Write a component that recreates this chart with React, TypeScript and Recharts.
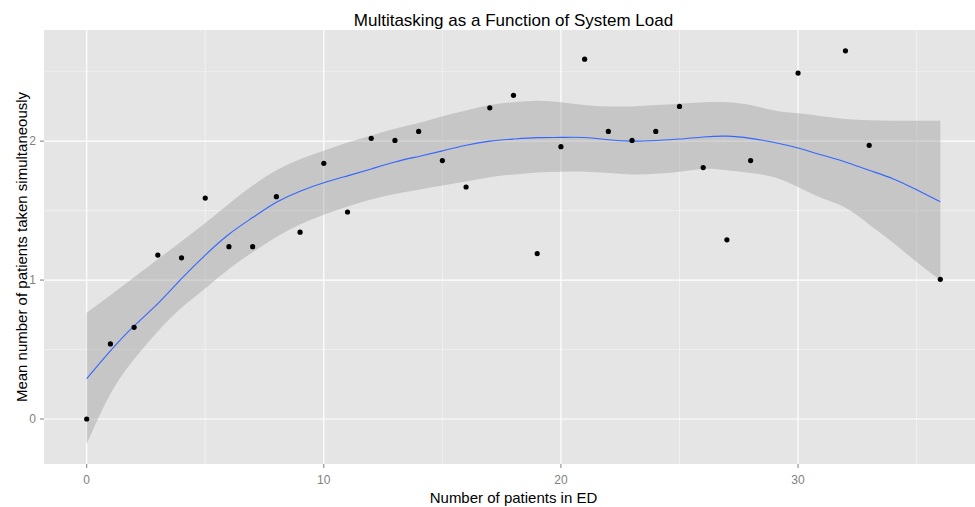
import {
  ComposedChart,
  Area,
  Line,
  Scatter,
  XAxis,
  YAxis,
  CartesianGrid,
} from "recharts";

// observed points: patients in ED vs mean number taken simultaneously
const patientsX = [0, 1, 2, 3, 4, 5, 6, 7, 8, 9, 10, 11, 12, 13, 14, 15, 16, 17, 18, 19, 20, 21, 22, 23, 24, 25, 26, 27, 28, 30, 32, 33, 36];
const meanTaken = [0, 0.54, 0.66, 1.18, 1.16, 1.59, 1.24, 1.24, 1.6, 1.345, 1.84, 1.49, 2.02, 2.005, 2.07, 1.86, 1.67, 2.24, 2.33, 1.19, 1.96, 2.59, 2.07, 2.005, 2.07, 2.25, 1.81, 1.29, 1.86, 2.49, 2.65, 1.97, 1.005];

// loess fit and confidence band, read at x = 0..36
const fitX = [0, 1, 2, 3, 4, 5, 6, 7, 8, 9, 10, 11, 12, 13, 14, 15, 16, 17, 18, 19, 20, 21, 22, 23, 24, 25, 26, 27, 28, 29, 30, 31, 32, 33, 34, 35, 36];
const fitY = [0.29, 0.49, 0.67, 0.83, 1.01, 1.18, 1.33, 1.45, 1.56, 1.64, 1.7, 1.75, 1.8, 1.85, 1.89, 1.93, 1.97, 2.0, 2.015, 2.025, 2.027, 2.026, 2.01, 2.0, 2.005, 2.015, 2.03, 2.036, 2.02, 1.99, 1.95, 1.9, 1.85, 1.79, 1.73, 1.65, 1.563];
const fitLow = [-0.18, 0.18, 0.43, 0.63, 0.8, 0.94, 1.08, 1.2, 1.31, 1.4, 1.47, 1.53, 1.58, 1.62, 1.65, 1.68, 1.71, 1.74, 1.76, 1.775, 1.78, 1.78, 1.77, 1.76, 1.765, 1.78, 1.8, 1.79, 1.77, 1.74, 1.67, 1.59, 1.52, 1.4, 1.27, 1.13, 1.0];
const fitHigh = [0.765, 0.89, 1.02, 1.15, 1.28, 1.41, 1.55, 1.68, 1.79, 1.87, 1.93, 1.99, 2.04, 2.09, 2.13, 2.18, 2.22, 2.26, 2.28, 2.29, 2.28, 2.26, 2.25, 2.25, 2.26, 2.27, 2.28, 2.28, 2.26, 2.22, 2.2, 2.18, 2.16, 2.15, 2.147, 2.146, 2.146];

const xTicks = [0, 10, 20, 30];
const xMinor = [5, 15, 25, 35];
const yTicks = [0, 1, 2];
const yMinor = [0.5, 1.5, 2.5];

const points = patientsX.map((x, i) => ({ x, y: meanTaken[i] }));
const band = fitX.map((x, i) => ({ x, fit: fitY[i], low: fitLow[i], high: fitHigh[i] }));

const FONT = "'Liberation Sans', Arial, sans-serif";
const tickStyle = { fill: "#7F7F7F", fontSize: 12, fontFamily: FONT };

export default function App() {
  return (
    <div style={{ position: "absolute", left: 0, top: 0, width: 975, height: 507, overflow: "hidden", background: "#fff" }}>
      <div
        style={{
          position: "absolute",
          left: 44,
          width: 939,
          top: 12,
          textAlign: "center",
          fontFamily: FONT,
          fontSize: 17,
          lineHeight: "17px",
          color: "#000",
        }}
      >
        Multitasking as a Function of System Load
      </div>
      <ComposedChart width={990} height={507} data={band} margin={{ top: 30, right: 7, bottom: 0, left: 0 }}>
        <CartesianGrid
          fill="#E5E5E5"
          fillOpacity={1}
          stroke="#F2F2F2"
          strokeWidth={0.8}
          horizontalValues={yMinor}
          verticalValues={xMinor}
        />
        <CartesianGrid stroke="#FFFFFF" strokeWidth={1.2} horizontalValues={yTicks} verticalValues={xTicks} />
        <XAxis
          dataKey="x"
          type="number"
          domain={[-1.8, 37.8]}
          ticks={xTicks}
          allowDataOverflow
          height={43}
          axisLine={false}
          tickLine={{ stroke: "#7F7F7F" }}
          tickSize={4}
          tickMargin={7}
          tick={tickStyle}
          label={{
            value: "Number of patients in ED",
            position: "insideBottom",
            offset: 4,
            fill: "#000",
            fontSize: 15,
            fontFamily: FONT,
          }}
        />
        <YAxis
          type="number"
          domain={[-0.324, 2.8]}
          ticks={yTicks}
          allowDataOverflow
          width={44}
          axisLine={false}
          tickLine={{ stroke: "#7F7F7F" }}
          tickSize={4}
          tickMargin={4}
          tick={tickStyle}
          label={{
            content: (props: any) => {
              const vb = props.viewBox || {};
              const cx = 26.5;
              const cy = vb.y + vb.height / 2;
              return (
                <text
                  x={cx}
                  y={cy}
                  transform={`rotate(-90 ${cx} ${cy})`}
                  textAnchor="middle"
                  fill="#000"
                  fontSize={15}
                  fontFamily={FONT}
                >
                  Mean number of patients taken simultaneously
                </text>
              );
            },
          }}
        />
        <Area
          type="natural"
          dataKey={(d: any) => [d.low, d.high]}
          stroke="none"
          fill="#999999"
          fillOpacity={0.4}
          isAnimationActive={false}
        />
        <Line
          type="natural"
          dataKey="fit"
          stroke="#3366FF"
          strokeWidth={1.1}
          dot={false}
          isAnimationActive={false}
        />
        <Scatter
          data={points}
          dataKey="y"
          fill="#000"
          isAnimationActive={false}
          shape={(p: any) => <circle cx={p.cx} cy={p.cy} r={2.6} fill="#000" />}
        />
      </ComposedChart>
    </div>
  );
}
